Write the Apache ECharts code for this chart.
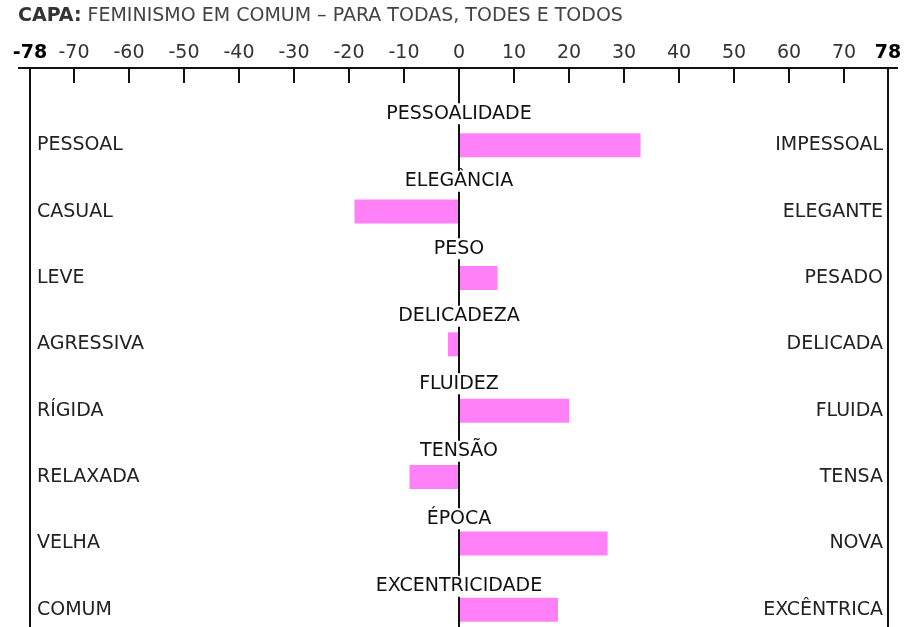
<!DOCTYPE html>
<html>
<head>
<meta charset="utf-8">
<script src="https://cdn.jsdelivr.net/npm/echarts@6/dist/echarts.min.js"></script>
<style>html,body{margin:0;padding:0;background:#fff;}#c{width:915px;height:627px;}</style>
</head>
<body>
<div id="c"></div>
<script>
const titleBold = 'CAPA:';
const titleRest = ' FEMINISMO EM COMUM – PARA TODAS, TODES E TODOS';
const categories = ['PESSOALIDADE','ELEGÂNCIA','PESO','DELICADEZA','FLUIDEZ','TENSÃO','ÉPOCA','EXCENTRICIDADE'];
const leftLabels = ['PESSOAL','CASUAL','LEVE','AGRESSIVA','RÍGIDA','RELAXADA','VELHA','COMUM'];
const rightLabels = ['IMPESSOAL','ELEGANTE','PESADO','DELICADA','FLUIDA','TENSA','NOVA','EXCÊNTRICA'];
const values = [33, -19, 7, -2, 20, -9, 27, 18];
const axisMin = -78, axisMax = 78;      // outer bounds, labelled in bold
const innerMin = -70, innerMax = 70, innerStep = 10;  // regular ticks -70..70

const FONT = 'DejaVu Sans';
const chart = echarts.init(document.getElementById('c'), null, {renderer:'canvas'});
const option = {
  animation: false,
  backgroundColor: '#fff',
  title: {
    left: 18, top: 7, padding: 0,
    text: '{b|' + titleBold + '}' + titleRest,
    textStyle: {
      fontFamily: FONT, fontSize: 19, color: '#444', fontWeight: 'normal',
      rich: { b: { fontFamily: FONT, fontSize: 19, fontWeight: 'bold', color: '#333' } }
    }
  },
  graphic: [{
    type: 'line', shape: {x1: 18, y1: 68, x2: 898, y2: 68},
    style: {stroke: '#111', lineWidth: 2}, z: 20
  }],
  grid: [
    {left: 30, right: 27, top: 68, bottom: 0, outerBoundsMode: 'none'},
    {left: 30, right: 27, top: 112, height: 531, outerBoundsMode: 'none'},
    {left: 74, right: 71, top: 68, bottom: 0, outerBoundsMode: 'none'},
    {left: 30, right: 27, top: 80, height: 540, outerBoundsMode: 'none'}
  ],
  xAxis: [
    {
      gridIndex: 0, type: 'value', position: 'top', min: axisMin, max: axisMax, interval: 78,
      axisLine: {show: false, onZero: false}, axisTick: {show: false},
      axisLabel: {
        show: true, margin: 5, fontFamily: FONT, fontSize: 19, color: '#000', fontWeight: 600,
        formatter: v => v === 0 ? '' : String(v)
      },
      splitLine: {show: true, lineStyle: {color: '#111', width: 2}}
    },
    {
      gridIndex: 1, type: 'value', min: axisMin, max: axisMax, show: false
    },
    {
      gridIndex: 2, type: 'value', position: 'top', min: innerMin, max: innerMax, interval: innerStep,
      axisLine: {show: true, onZero: false, lineStyle: {color: '#111', width: 2}},
      axisTick: {show: true, inside: true, length: 15, lineStyle: {color: '#111', width: 2}},
      axisLabel: {show: true, margin: 5, fontFamily: FONT, fontSize: 19, color: '#333'},
      splitLine: {show: false}
    },
    {
      gridIndex: 3, type: 'value', min: axisMin, max: axisMax, show: false
    }
  ],
  yAxis: [
    {
      gridIndex: 1, type: 'category', data: leftLabels, inverse: true, position: 'left',
      axisLine: {show: false}, axisTick: {show: false}, splitLine: {show: false},
      axisLabel: {inside: true, margin: 7, fontFamily: FONT, fontSize: 19, color: '#222'}
    },
    {
      gridIndex: 1, type: 'category', data: rightLabels, inverse: true, position: 'right',
      axisLine: {show: false}, axisTick: {show: false}, splitLine: {show: false},
      axisLabel: {inside: true, margin: 5, fontFamily: FONT, fontSize: 19, color: '#222'}
    },
    { gridIndex: 0, type: 'value', min: 0, max: 1, show: false },
    { gridIndex: 2, type: 'value', min: 0, max: 1, show: false },
    { gridIndex: 3, type: 'category', data: categories, inverse: true, show: false }
  ],
  series: [
    {
      type: 'bar', xAxisIndex: 1, yAxisIndex: 0, data: values, barWidth: 24, z: 2,
      itemStyle: {color: '#ff80f7'},
      markLine: {
        silent: true, symbol: 'none', z: 3,
        lineStyle: {color: '#111', width: 2, type: 'solid'},
        label: {show: false},
        data: [{xAxis: 0}]
      }
    },
    {
      type: 'scatter', xAxisIndex: 3, yAxisIndex: 4, z: 10, silent: true,
      symbolSize: 1, itemStyle: {color: 'rgba(0,0,0,0)', opacity: 1},
      data: categories.map((c, i) => [0, c]),
      label: {
        show: true, position: 'inside',
        formatter: p => p.value[1],
        fontFamily: FONT, fontSize: 19, color: '#111',
        backgroundColor: '#fff', padding: [1, 2]
      }
    }
  ]
};
chart.setOption(option);
</script>
</body>
</html>
